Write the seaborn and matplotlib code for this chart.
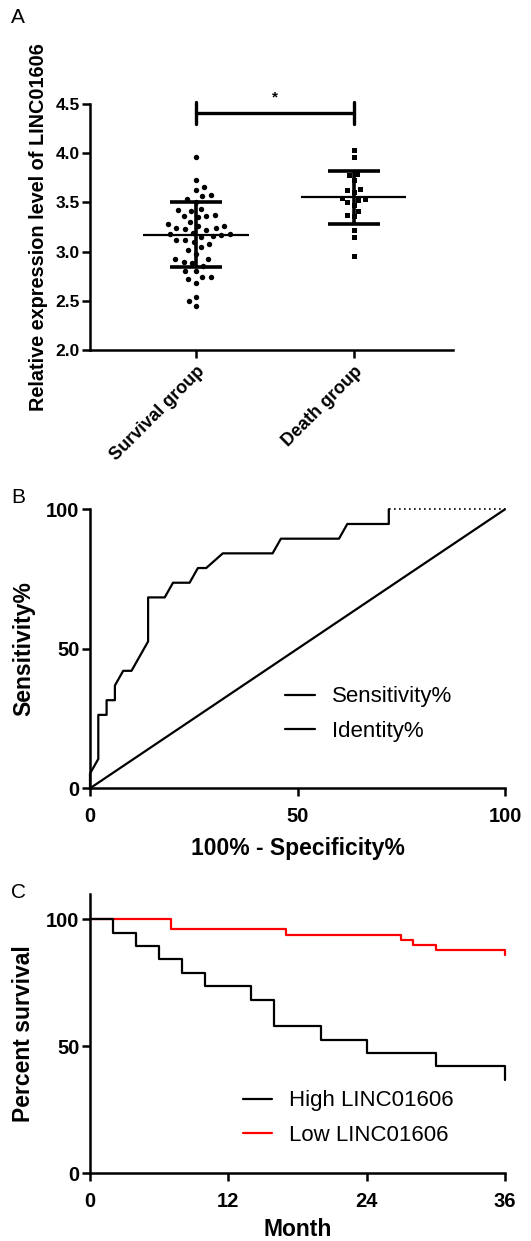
import numpy as np
import pandas as pd
import matplotlib
matplotlib.use("Agg")
import matplotlib.pyplot as plt
import seaborn as sns

# ---------------- data ----------------
groups = ["Survival group", "Death group"]
survival_values = [3.96, 3.73, 3.66, 3.63, 3.58, 3.56, 3.53, 3.50, 3.43, 3.42,
                   3.41, 3.37, 3.36, 3.36, 3.35, 3.30, 3.28, 3.26, 3.26, 3.24,
                   3.24, 3.23, 3.22, 3.19, 3.18, 3.18, 3.17, 3.16, 3.15, 3.12,
                   3.12, 3.10, 3.08, 3.05, 3.02, 2.98, 2.92, 2.92, 2.89, 2.88,
                   2.85, 2.80, 2.80, 2.74, 2.74, 2.72, 2.68, 2.54, 2.50, 2.45]
death_values = [4.03, 3.96, 3.79, 3.78, 3.73, 3.64, 3.63, 3.61, 3.54, 3.53,
                3.52, 3.50, 3.47, 3.41, 3.37, 3.36, 3.22, 3.15, 2.96]
group_means = [3.17, 3.55]
group_sds = [0.33, 0.27]
bracket_y = 4.41
bracket_tick_low, bracket_tick_high = 4.30, 4.52
signif_label = "*"
a_yticks = [2.0, 2.5, 3.0, 3.5, 4.0, 4.5]

roc_fpr = [0, 0, 2, 2, 4, 4, 6, 6, 8, 10, 14, 14, 18, 20, 24, 26, 28, 32, 44, 46, 60, 62, 72, 72, 100]
roc_tpr = [0, 5.26, 10.53, 26.32, 26.32, 31.58, 31.58, 36.84, 42.11, 42.11, 52.63, 68.42,
           68.42, 73.68, 73.68, 78.95, 78.95, 84.21, 84.21, 89.47, 89.47, 94.74, 94.74, 100, 100]
identity_x = [0, 100]
identity_y = [0, 100]
b_ticks = [0, 50, 100]

km_high_t = [0, 2, 4, 6, 8, 10, 14, 16, 20, 24, 30, 36]
km_high_s = [100, 94.74, 89.47, 84.21, 78.95, 73.68, 68.42, 57.89, 52.63, 47.37, 42.11, 36.84]
km_low_t = [0, 7, 17, 27, 28, 30, 36]
km_low_s = [100, 96, 94, 92, 90, 88, 86]
c_xticks = [0, 12, 24, 36]
c_yticks = [0, 50, 100]

# ---------------- style ----------------
sns.set_theme(style="ticks")
plt.rcParams["font.family"] = ["Liberation Sans", "DejaVu Sans"]
plt.rcParams["axes.linewidth"] = 1.8
plt.rcParams["xtick.major.width"] = 1.8
plt.rcParams["ytick.major.width"] = 1.8
plt.rcParams["xtick.major.size"] = 5.5
plt.rcParams["ytick.major.size"] = 5.5
plt.rcParams["xtick.color"] = "black"
plt.rcParams["ytick.color"] = "black"
plt.rcParams["axes.edgecolor"] = "black"
plt.rcParams["text.color"] = "black"
plt.rcParams["axes.labelcolor"] = "black"

W, H = 531, 1241
fig = plt.figure(figsize=(W / 100, H / 100), dpi=100)

def axes_px(l, r, t, b):
    return fig.add_axes([l / W, 1 - b / H, (r - l) / W, (b - t) / H])

# ---------------- Panel A ----------------
axA = axes_px(90, 453, 104, 350)
surv_df = pd.DataFrame({"group": groups[0], "value": survival_values})
death_df = pd.DataFrame({"group": groups[1], "value": death_values})
# transparent edges widen the swarm spacing like the original scatter
sns.swarmplot(data=surv_df, x="group", y="value", order=groups, color="black",
              marker="o", size=3.9, linewidth=2.2, edgecolor=(1, 1, 1, 0),
              ax=axA, zorder=3)
sns.swarmplot(data=death_df, x="group", y="value", order=groups, color="black",
              marker="s", size=3.6, linewidth=1.2, edgecolor=(1, 1, 1, 0),
              ax=axA, zorder=3)
for i, (m, s) in enumerate(zip(group_means, group_sds)):
    axA.hlines(m, i - 0.335, i + 0.335, color="black", lw=1.6, zorder=4)
    axA.vlines(i, m - s, m + s, color="black", lw=2.6, zorder=4)
    axA.hlines([m - s, m + s], i - 0.165, i + 0.165, color="black", lw=2.6, zorder=4)
axA.plot([0, 1], [bracket_y, bracket_y], color="black", lw=2.4, clip_on=False)
axA.plot([0, 0], [bracket_tick_low, bracket_tick_high], color="black", lw=2.4, clip_on=False)
axA.plot([1, 1], [bracket_tick_low, bracket_tick_high], color="black", lw=2.4, clip_on=False)
axA.text(0.5, 4.565, signif_label, ha="center", va="center", fontsize=11, fontweight="bold")
axA.set_xlim(-0.67, 1.63)
axA.set_ylim(2.0, 4.5)
axA.set_yticks(a_yticks)
axA.set_yticklabels([f"{v:.1f}" for v in a_yticks], fontsize=12.5, fontweight="bold")
axA.set_xticks([0, 1])
axA.set_xticklabels(groups, rotation=45, ha="right", rotation_mode="anchor",
                    fontsize=13, fontweight="bold")
axA.tick_params(axis="y", pad=2)
axA.tick_params(axis="x", pad=4)
axA.set_xlabel("")
axA.set_ylabel("Relative expression level of LINC01606", fontsize=14.3,
               fontweight="bold", labelpad=5)
sns.despine(ax=axA)

# ---------------- Panel B ----------------
axB = axes_px(90, 505, 509.3, 788.3)
roc_df = pd.DataFrame({"fpr": roc_fpr, "tpr": roc_tpr})
n_solid = len(roc_fpr) - 1
sns.lineplot(data=roc_df.iloc[:n_solid], x="fpr", y="tpr", sort=False, estimator=None,
             color="black", lw=1.6, ax=axB, label="Sensitivity%", clip_on=False)
sns.lineplot(data=roc_df.iloc[n_solid - 1:], x="fpr", y="tpr", sort=False, estimator=None,
             color="black", lw=1.2, ls=(0, (1, 2)), ax=axB, clip_on=False)
id_df = pd.DataFrame({"x": identity_x, "y": identity_y})
sns.lineplot(data=id_df, x="x", y="y", color="black", lw=1.6, ax=axB,
             label="Identity%", clip_on=False)
axB.set_xlim(0, 100)
axB.set_ylim(0, 100)
axB.set_xticks(b_ticks)
axB.set_yticks(b_ticks)
axB.set_xticklabels([str(v) for v in b_ticks], fontsize=14.5, fontweight="bold")
axB.set_yticklabels([str(v) for v in b_ticks], fontsize=14.5, fontweight="bold")
axB.tick_params(axis="y", pad=2)
axB.tick_params(axis="x", pad=8)
axB.set_xlabel("100% - Specificity%", fontsize=16.5, fontweight="bold", labelpad=8)
axB.set_ylabel("Sensitivity%", fontsize=16.5, fontweight="bold", labelpad=8)
leg = axB.legend(loc="center left", bbox_to_anchor=(0.47, 0.266), frameon=False,
                 fontsize=16, handlelength=1.36, handletextpad=0.77, labelspacing=0.6,
                 borderpad=0, borderaxespad=0)
sns.despine(ax=axB)

# ---------------- Panel C ----------------
axC = axes_px(90, 505, 893.9, 1173.3)
low_df = pd.DataFrame({"t": km_low_t, "s": km_low_s})
high_df = pd.DataFrame({"t": km_high_t, "s": km_high_s})
sns.lineplot(data=low_df, x="t", y="s", drawstyle="steps-post", color="#ff0000", lw=1.6,
             ax=axC, label="Low LINC01606", zorder=2, clip_on=False)
sns.lineplot(data=high_df, x="t", y="s", drawstyle="steps-post", color="black", lw=1.6,
             ax=axC, label="High LINC01606", zorder=3, clip_on=False)
axC.set_xlim(0, 36)
axC.set_ylim(0, 110)
axC.set_xticks(c_xticks)
axC.set_yticks(c_yticks)
axC.set_xticklabels([str(v) for v in c_xticks], fontsize=14.5, fontweight="bold")
axC.set_yticklabels([str(v) for v in c_yticks], fontsize=14.5, fontweight="bold")
axC.tick_params(axis="y", pad=2)
axC.tick_params(axis="x", pad=8)
axC.set_xlabel("Month", fontsize=16.5, fontweight="bold", labelpad=5)
axC.set_ylabel("Percent survival", fontsize=16.5, fontweight="bold", labelpad=8)
h, l = axC.get_legend_handles_labels()
axC.legend([h[1], h[0]], [l[1], l[0]], loc="center left", bbox_to_anchor=(0.369, 0.198),
           frameon=False, fontsize=16, handlelength=1.3, handletextpad=0.77,
           labelspacing=0.6, borderpad=0, borderaxespad=0)
sns.despine(ax=axC)

# ---------------- panel letters ----------------
for letter, ypx in [("A", 8), ("B", 488), ("C", 883)]:
    fig.text(11 / W, 1 - ypx / H, letter, fontsize=15, va="top", ha="left")

fig.savefig("out.png", dpi=100)
